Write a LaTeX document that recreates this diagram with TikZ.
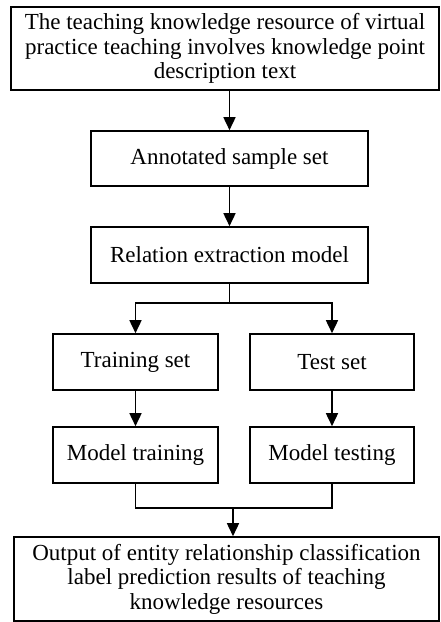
\documentclass[tikz,border=0pt]{standalone}
\usepackage{fontspec}
\setmainfont{Liberation Serif}
\usetikzlibrary{arrows.meta}

\begin{document}
\begin{tikzpicture}[x=1pt, y=-1pt,
                    every node/.style={draw=black, line width=1.6pt, inner sep=0pt,
                                       font=\fontsize{23}{24.5}\selectfont, align=center},
                    edge_style/.style={draw=black, line width=1.6pt},
                    arrow_style/.style={edge_style, -{Triangle[width=12pt,length=13pt]}}]
                    \useasboundingbox (0,0) rectangle (440,622);
                    \node[minimum width=428pt, minimum height=83pt] (source) at (225, 48.5)
                        {The teaching knowledge resource of virtual\\ practice teaching involves knowledge point\\ description text};
                    \node[minimum width=277pt, minimum height=55pt] (sample) at (229.5, 158.5) {Annotated sample set};
                    \node[minimum width=277pt, minimum height=56pt] (relation) at (229.5, 255) {Relation extraction model};
                    \node[minimum width=165pt, minimum height=56pt] (trainset) at (135.5, 362) {Training set};
                    \node[minimum width=164pt, minimum height=56pt] (testset) at (332, 362) {Test set};
                    \node[minimum width=165pt, minimum height=56pt] (training) at (135.5, 455) {Model training};
                    \node[minimum width=164pt, minimum height=56pt] (testing) at (332, 455) {Model testing};
                    \node[minimum width=425pt, minimum height=84pt] (output) at (226.5, 579)
                        {Output of entity relationship classification\\ label prediction results of teaching\\ knowledge resources};
                    \coordinate (split) at (229.5, 303);
                    \coordinate (join) at (233, 508);
                    \draw[arrow_style] (sample.north |- source.south) -- (sample.north);
                    \draw[arrow_style] (sample) -- (relation);
                    \draw[edge_style] (relation.south) -- (split);
                    \draw[arrow_style] (split) -| (trainset.north);
                    \draw[arrow_style] (split) -| (testset.north);
                    \draw[arrow_style] (trainset) -- (training);
                    \draw[arrow_style] (testset) -- (testing);
                    \draw[edge_style] (training.south) |- (join) -| (testing.south);
                    \draw[arrow_style] (join) -- (output.north -| join);
                \end{tikzpicture}
\end{document}
